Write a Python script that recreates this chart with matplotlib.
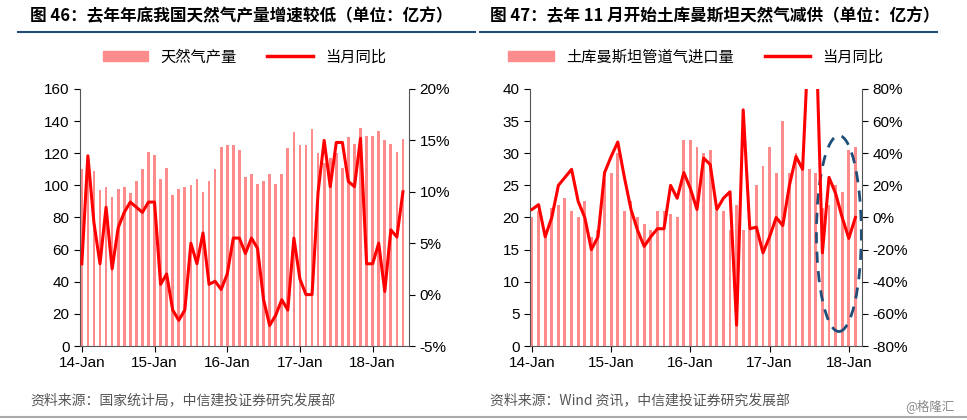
import matplotlib.pyplot as plt
import numpy as np
from matplotlib.patches import Ellipse
from matplotlib.lines import Line2D

plt.rcParams['font.family'] = ['Liberation Sans', 'Noto Sans CJK SC']

# Chart 46: domestic gas production (Jan 2014 - Jun 2018)
prod = [110, 118, 109, 97, 99, 93, 98, 99, 95, 103, 110, 121, 119, 104, 111, 94, 98, 99,
        100, 104, 96, 103, 110, 124, 125, 125, 122, 105, 107, 101, 103, 107, 101, 107, 123, 133,
        125, 125, 135, 120, 114, 117, 120, 111, 130, 126, 136, 131, 131, 134, 128, 126, 121, 129]
prod_yoy = [3, 13.5, 7, 3, 8.5, 2.5, 6.5, 8, 9, 8.5, 8, 9, 9, 1, 2, -1.5, -2.5, -1.5,
            5, 3, 6, 1, 1.3, 0.5, 2, 5.5, 5.5, 4, 5.5, 4.5, -0.5, -3, -2, -0.5, -1.5, 5.5,
            1.5, 0, 0, 10, 15, 10.5, 14.8, 14.8, 11, 10.5, 15.2, 3, 3, 5, 0.3, 6.3, 5.6, 10]

# Chart 47: Turkmenistan pipeline imports (Jan 2014 - Feb 2018)
imp = [20, 21, 17, 21.5, 22, 23, 21, 20, 22.5, 17, 18, 26, 27, 30, 21, 22.5, 20, 19, 18, 21,
       21, 20.5, 20, 32, 32, 31, 30, 30.5, 21, 21, 18, 22, 18, 18, 25, 28, 31, 27, 35, 27,
       30, 27.5, 27.5, 27, 21.5, 22, 25, 24, 30.5, 31]
imp_yoy = [5, 8, -12, 0, 20, 25, 30, 10, 0, -20, -12, 28, 38, 47, 25, 5, -8, -18, -12, -7,
           -7, 20, 12, 28, 18, 5, 37, 33, 5, 12, 16, -67, 67, -7, -6, -22, -12, 0, -5, 20,
           38, 30, 120, 120, -22, 25, 15, 0, -13, 0]

tick_pos = [0, 12, 24, 36, 48]
tick_lab = ['14-Jan', '15-Jan', '16-Jan', '17-Jan', '18-Jan']

BAR = '#ff8c8c'
LINE = '#ff0000'
W, H = 967, 420
fig = plt.figure(figsize=(W / 100, H / 100), dpi=100)


def px(x0, y0, x1, y1):
    return [x0 / W, 1 - y1 / H, (x1 - x0) / W, (y1 - y0) / H]


def panel(rect, bars, yoy, ylim, yticks, y2lim, y2ticks, y2fmt, xmax, label):
    ax = fig.add_axes(rect)
    x = np.arange(len(bars))
    ax.bar(x, bars, width=0.45, color=BAR, zorder=1)
    ax.set_ylim(*ylim)
    ax.set_yticks(yticks)
    ax.set_xlim(-0.3, xmax)
    ax.set_xticks(tick_pos)
    ax.set_xticklabels(tick_lab)
    for s in ['top', 'right']:
        ax.spines[s].set_visible(False)
    ax.tick_params(labelsize=11, length=4, direction='out')
    ax2 = ax.twinx()
    ax2.plot(np.arange(len(yoy)), yoy, color=LINE, lw=2.2, zorder=3)
    ax2.set_ylim(*y2lim)
    ax2.set_yticks(y2ticks)
    ax2.set_yticklabels([y2fmt(v) for v in y2ticks])
    for s in ['top', 'left', 'bottom']:
        ax2.spines[s].set_visible(False)
    ax2.tick_params(labelsize=11, length=4)
    for a in (ax, ax2):
        for s in a.spines.values():
            s.set_color('#555555')
    handles = [plt.Rectangle((0, 0), 1, 1, color=BAR), Line2D([], [], color=LINE, lw=2.5)]
    ax.legend(handles, [label, '当月同比'], loc='center', bbox_to_anchor=(0.5, 1.125),
              ncol=2, frameon=False, handlelength=3, columnspacing=2,
              prop={'family': 'Noto Sans CJK SC', 'size': 11})
    return ax, ax2


ax, _ = panel(px(80, 89, 409, 346), prod, prod_yoy, (0, 160), range(0, 161, 20),
              (-5, 20), range(-5, 21, 5), lambda v: f'{v}%', 54, '天然气产量')
bx, bx2 = panel(px(530, 89, 862, 346), imp, imp_yoy, (0, 40), range(0, 41, 5),
                (-80, 80), range(-80, 81, 20), lambda v: f'{v}%', 50, '土库曼斯坦管道气进口量')
bx.add_patch(Ellipse((46.5, 17.5), 6.8, 30.5, fill=False, ls=(0, (4, 3)),
                     color='#1f4e79', lw=2, zorder=5))

cjk = 'Noto Sans CJK SC'
fig.text(30 / W, 1 - 16 / H, '图 46：去年年底我国天然气产量增速较低（单位：亿方）',
         fontsize=12, fontweight='bold', family=cjk, va='center')
fig.text(490 / W, 1 - 16 / H, '图 47：去年 11 月开始土库曼斯坦天然气减供（单位：亿方）',
         fontsize=12, fontweight='bold', family=cjk, va='center')
fig.add_artist(Line2D([18 / W, 475 / W], [1 - 32 / H] * 2, color='#1f4e79', lw=1.5))
fig.add_artist(Line2D([480 / W, 937 / W], [1 - 32 / H] * 2, color='#1f4e79', lw=1.5))
fig.text(30 / W, 1 - 400 / H, '资料来源：国家统计局，中信建投证券研究发展部',
         fontsize=10, style='italic', color='#555555', family=cjk, va='center')
fig.text(490 / W, 1 - 400 / H, '资料来源：Wind 资讯，中信建投证券研究发展部',
         fontsize=10, style='italic', color='#555555', family=cjk, va='center')
fig.text(905 / W, 1 - 406 / H, '@格隆汇', fontsize=9, color='#888888', family=cjk, va='center')
fig.add_artist(Line2D([0, 1], [1 - 417 / H] * 2, color='#aaaaaa', lw=1.5))

fig.savefig('out.png', dpi=100)
